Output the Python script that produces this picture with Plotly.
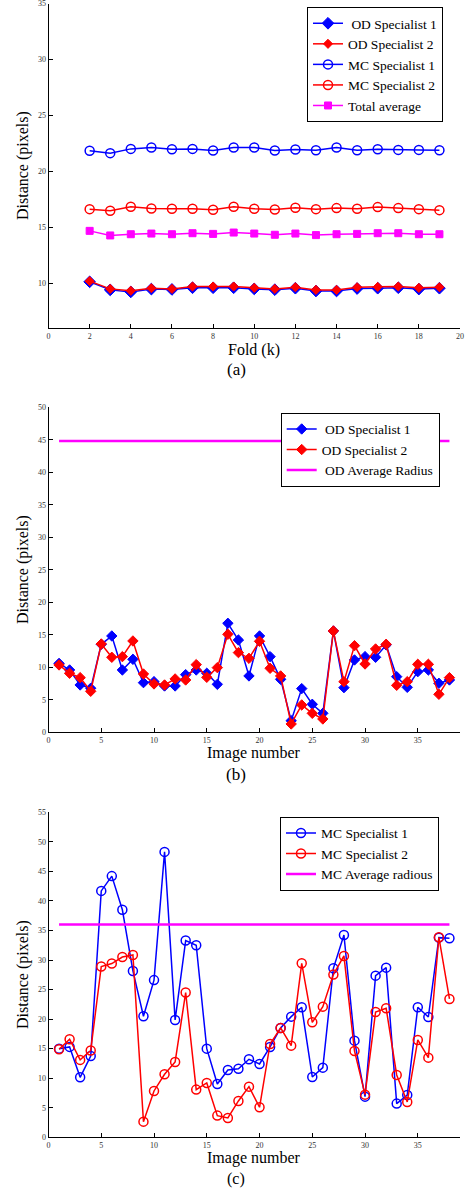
import plotly.graph_objects as go

# ---------------- data ----------------
folds = list(range(2, 20))
od1_fold = [10.15, 9.43, 9.25, 9.50, 9.47, 9.62, 9.62, 9.62, 9.52, 9.45, 9.58, 9.33, 9.33, 9.55, 9.58, 9.62, 9.50, 9.58]
od2_fold = [10.21, 9.52, 9.35, 9.58, 9.52, 9.73, 9.73, 9.73, 9.61, 9.52, 9.67, 9.43, 9.43, 9.67, 9.70, 9.73, 9.61, 9.67]
mc1_fold = [21.85, 21.64, 22.02, 22.14, 21.99, 22.02, 21.88, 22.14, 22.14, 21.88, 21.96, 21.90, 22.14, 21.90, 21.99, 21.93, 21.93, 21.90]
mc2_fold = [16.64, 16.49, 16.85, 16.70, 16.67, 16.67, 16.58, 16.85, 16.67, 16.61, 16.76, 16.64, 16.73, 16.67, 16.82, 16.73, 16.64, 16.55]
avg_fold = [14.70, 14.29, 14.40, 14.46, 14.40, 14.49, 14.43, 14.55, 14.46, 14.35, 14.46, 14.32, 14.40, 14.43, 14.49, 14.49, 14.40, 14.40]

images = list(range(1, 39))
od1 = [10.6, 9.59, 7.28, 6.77, 13.54, 14.82, 9.59, 11.23, 7.64, 7.79,
       7.13, 7.13, 8.87, 9.59, 9.08, 7.38, 16.77, 14.2, 8.67, 14.82,
       11.64, 8.15, 1.79, 6.72, 4.31, 2.92, 15.59, 6.87, 11.13, 11.64,
       11.54, 13.44, 8.56, 6.92, 9.33, 9.59, 7.54, 8.05]
od2 = [10.36, 9.08, 8.41, 6.31, 13.59, 11.54, 11.64, 14.05, 8.97, 7.44,
       7.28, 8.21, 8.05, 10.41, 8.46, 9.95, 15.08, 12.26, 11.38, 14.0,
       9.85, 8.67, 1.28, 4.21, 2.92, 2.05, 15.59, 7.79, 13.33, 10.51,
       12.82, 13.54, 7.23, 7.79, 10.46, 10.46, 5.85, 8.41]
od_avg_radius = 44.8

mc1 = [15.0, 15.3, 10.15, 13.76, 41.7, 44.2, 38.5, 28.15, 20.48, 26.6,
       48.3, 19.86, 33.3, 32.5, 15.0, 9.03, 11.4, 11.6, 13.2, 12.41,
       15.29, 18.5, 20.42, 22.0, 10.21, 11.79, 28.6, 34.24, 16.36, 6.88,
       27.36, 28.71, 5.70, 7.16, 22.0, 20.36, 33.79, 33.68]
mc2 = [14.9, 16.6, 13.1, 14.7, 28.9, 29.4, 30.5, 30.85, 2.65, 7.84,
       10.66, 12.75, 24.5, 8.07, 9.2, 3.67, 3.27, 6.15, 8.57, 5.08,
       15.8, 18.5, 15.51, 29.45, 19.46, 22.11, 27.53, 30.69, 14.61, 7.22,
       21.21, 21.83, 10.55, 5.98, 16.47, 13.48, 33.85, 23.41]
mc_avg_radius = 36.0

# ---------------- styling ----------------
W, H = 466, 1189
FONT = "Liberation Serif"
BLUE, RED, MAG = "#0000FF", "#FF0000", "#FF00FF"
NB = "\u00a0"

fig = go.Figure()

# panel (a)
fig.add_trace(go.Scatter(x=folds, y=od1_fold, name=NB + "OD Specialist 1", mode="lines+markers",
                         line=dict(color=BLUE, width=1.5),
                         marker=dict(symbol="diamond", size=9, color=BLUE, line=dict(color=BLUE, width=1)),
                         xaxis="x", yaxis="y", legend="legend"))
fig.add_trace(go.Scatter(x=folds, y=od2_fold, name="OD Specialist 2", mode="lines+markers",
                         line=dict(color=RED, width=1.5),
                         marker=dict(symbol="diamond", size=7, color=RED, line=dict(color=RED, width=1)),
                         xaxis="x", yaxis="y", legend="legend"))
fig.add_trace(go.Scatter(x=folds, y=mc1_fold, name="MC Specialist 1", mode="lines+markers",
                         line=dict(color=BLUE, width=1.5),
                         marker=dict(symbol="circle-open", size=9, color=BLUE, line=dict(color=BLUE, width=1.5)),
                         xaxis="x", yaxis="y", legend="legend"))
fig.add_trace(go.Scatter(x=folds, y=mc2_fold, name="MC Specialist 2", mode="lines+markers",
                         line=dict(color=RED, width=1.5),
                         marker=dict(symbol="circle-open", size=9, color=RED, line=dict(color=RED, width=1.5)),
                         xaxis="x", yaxis="y", legend="legend"))
fig.add_trace(go.Scatter(x=folds, y=avg_fold, name="Total average", mode="lines+markers",
                         line=dict(color=MAG, width=1.5),
                         marker=dict(symbol="square", size=7, color=MAG, line=dict(color=MAG, width=1)),
                         xaxis="x", yaxis="y", legend="legend"))

# panel (b)
fig.add_trace(go.Scatter(x=images, y=od1, name=NB + "OD Specialist 1", mode="lines+markers",
                         line=dict(color=BLUE, width=1.5),
                         marker=dict(symbol="diamond", size=8, color=BLUE, line=dict(color=BLUE, width=1)),
                         xaxis="x2", yaxis="y2", legend="legend2"))
fig.add_trace(go.Scatter(x=images, y=od2, name="OD Specialist 2", mode="lines+markers",
                         line=dict(color=RED, width=1.5),
                         marker=dict(symbol="diamond", size=8, color=RED, line=dict(color=RED, width=1)),
                         xaxis="x2", yaxis="y2", legend="legend2"))
fig.add_trace(go.Scatter(x=[images[0], images[-1]], y=[od_avg_radius, od_avg_radius],
                         name=NB + "OD Average Radius", mode="lines",
                         line=dict(color=MAG, width=2.5),
                         xaxis="x2", yaxis="y2", legend="legend2"))

# panel (c)
fig.add_trace(go.Scatter(x=images, y=mc1, name="MC Specialist 1", mode="lines+markers",
                         line=dict(color=BLUE, width=1.5),
                         marker=dict(symbol="circle-open", size=9, color=BLUE, line=dict(color=BLUE, width=1.5)),
                         xaxis="x3", yaxis="y3", legend="legend3"))
fig.add_trace(go.Scatter(x=images, y=mc2, name="MC Specialist 2", mode="lines+markers",
                         line=dict(color=RED, width=1.5),
                         marker=dict(symbol="circle-open", size=9, color=RED, line=dict(color=RED, width=1.5)),
                         xaxis="x3", yaxis="y3", legend="legend3"))
fig.add_trace(go.Scatter(x=[images[0], images[-1]], y=[mc_avg_radius, mc_avg_radius],
                         name="MC Average radious", mode="lines",
                         line=dict(color=MAG, width=2.5),
                         xaxis="x3", yaxis="y3", legend="legend3"))

xdom = [48.5 / W, 460 / W]


def ydom(top, bottom):
    return [1 - bottom / H, 1 - top / H]


axis_common = dict(showline=True, linecolor="black", linewidth=1, ticks="inside", ticklen=4,
                   tickcolor="black", tickwidth=1, showgrid=False, zeroline=False,
                   tickfont=dict(family=FONT, size=8, color="#333333"), mirror=False,
                   automargin=False, ticklabeloverflow="allow")

leg_common = dict(xanchor="left", yanchor="top", bgcolor="white",
                  bordercolor="black", borderwidth=1,
                  font=dict(family=FONT, size=13.5, color="black"),
                  tracegroupgap=0, itemwidth=30)

fig.update_layout(
    width=W, height=H, margin=dict(l=0, r=0, t=0, b=0, autoexpand=False),
    paper_bgcolor="white", plot_bgcolor="white",
    font=dict(family=FONT, color="black"),
    xaxis=dict(domain=xdom, range=[0, 20], dtick=2, tick0=0, anchor="y", **axis_common),
    yaxis=dict(domain=ydom(3.5, 328.3), range=[6, 35], tickvals=[10, 15, 20, 25, 30, 35], anchor="x", **axis_common),
    xaxis2=dict(domain=xdom, range=[0, 39], dtick=5, tick0=0, anchor="y2", **axis_common),
    yaxis2=dict(domain=ydom(407.3, 732.3), range=[0, 50], dtick=5, tick0=0, anchor="x2", **axis_common),
    xaxis3=dict(domain=xdom, range=[0, 39], dtick=5, tick0=0, anchor="y3", **axis_common),
    yaxis3=dict(domain=ydom(812.3, 1137.3), range=[0, 55], dtick=5, tick0=0, anchor="x3", **axis_common),
    legend=dict(x=307 / W, y=1 - 7 / H, **leg_common),
    legend2=dict(x=280.7 / W, y=1 - 412.7 / H, **leg_common),
    legend3=dict(x=280 / W, y=1 - 816.7 / H, **leg_common),
    showlegend=True,
)

ann = []


def add_text(text, x_px, y_px, size, angle=0):
    ann.append(dict(text=text, x=x_px / W, y=1 - y_px / H, xref="paper", yref="paper",
                    showarrow=False, textangle=angle, xanchor="center", yanchor="middle",
                    font=dict(family=FONT, size=size, color="black")))


add_text("Distance (pixels)", 23, 166, 16, -90)
add_text("Fold (k)", 254, 350, 16)
add_text("(a)", 236, 370, 17)
add_text("Distance (pixels)", 23, 570, 16, -90)
add_text("Image number", 254, 753, 16)
add_text("(b)", 236, 774, 17)
add_text("Distance (pixels)", 23, 975, 16, -90)
add_text("Image number", 254, 1158, 16)
add_text("(c)", 236, 1179, 16)
fig.update_layout(annotations=ann)

fig.write_html("out.html", config={"displayModeBar": False},
               post_script="document.body.style.margin='0';document.body.style.overflow='hidden';")
